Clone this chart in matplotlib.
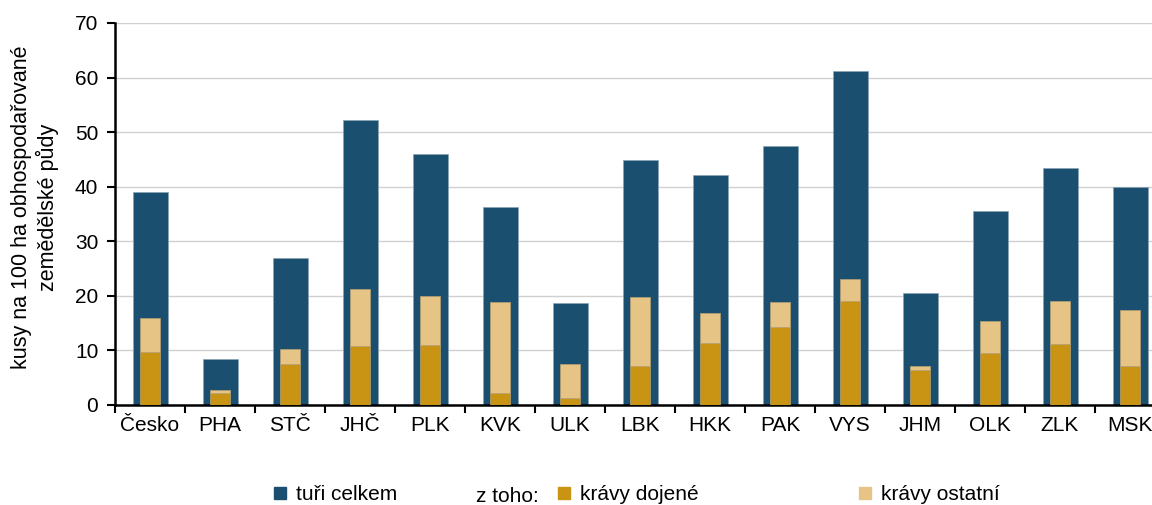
import numpy as np
import matplotlib
matplotlib.use('Agg')
import matplotlib.pyplot as plt
from matplotlib.patches import Patch

matplotlib.rcParams.update({'font.family': ['Liberation Sans', 'DejaVu Sans'], 'font.size': 15})

regions = ['Česko', 'PHA', 'STČ', 'JHČ', 'PLK', 'KVK', 'ULK', 'LBK', 'HKK', 'PAK',
           'VYS', 'JHM', 'OLK', 'ZLK', 'MSK']
turi_celkem = [39.0, 8.4, 26.9, 52.2, 46.0, 36.3, 18.7, 44.9, 42.1, 47.5, 61.2, 20.5, 35.6, 43.5, 40.0]
kravy_dojene = [9.7, 2.2, 7.5, 10.8, 11.0, 2.2, 1.3, 7.1, 11.4, 14.3, 19.1, 6.4, 9.5, 11.2, 7.1]
kravy_ostatni = [6.2, 0.6, 2.8, 10.5, 9.0, 16.7, 6.2, 12.7, 5.5, 4.6, 4.0, 0.7, 5.9, 7.9, 10.4]

c_blue = '#1a4f70'
c_doj = '#c99414'
c_ost = '#e6c486'

fig = plt.figure(figsize=(11.52, 5.05), dpi=100)
ax = fig.add_axes([115/1152, 100/505, 1050/1152, 382/505])

x = np.arange(len(regions))
ax.bar(x, turi_celkem, width=0.5, color=c_blue, edgecolor='#8aa3b5', linewidth=0.5, zorder=2)
ax.bar(x, kravy_dojene, width=0.29, color=c_doj, edgecolor='#b8a070', linewidth=0.5, zorder=3)
ax.bar(x, kravy_ostatni, width=0.29, bottom=kravy_dojene, color=c_ost,
       edgecolor='#b8a070', linewidth=0.5, zorder=3)

ax.set_xlim(-0.5, len(regions) - 0.5)
ax.set_ylim(0, 70)
ax.set_yticks(range(0, 71, 10))
ax.yaxis.grid(True, color='#d0d0d0', linewidth=1.0, zorder=0)
ax.set_axisbelow(True)

ax.set_xticks(x)
ax.set_xticklabels(regions)
ax.set_xticks(np.arange(-0.5, len(regions), 1), minor=True)
ax.tick_params(axis='x', which='major', length=0, pad=8)
ax.tick_params(axis='x', which='minor', length=6, width=1.5, direction='out')
ax.tick_params(axis='y', length=6, width=1.5, direction='out', pad=6)

for s in ['top', 'right']:
    ax.spines[s].set_visible(False)
ax.spines['left'].set_linewidth(1.8)
ax.spines['bottom'].set_linewidth(1.8)

ax.set_ylabel('kusy na 100 ha obhospodařované\nzemědělské půdy', fontsize=15.5)
ax.yaxis.set_label_coords(-56/1050, 0.518)

leg_kw = dict(frameon=False, handlelength=0.55, handleheight=0.55, handletextpad=0.5,
              loc='center left', fontsize=15, borderaxespad=0)
ly = 1 - 495/505
fig.legend(handles=[Patch(color=c_blue, label='tuři celkem')], bbox_to_anchor=(266/1152, ly), **leg_kw)
fig.legend(handles=[Patch(color=c_doj, label='krávy dojené')], bbox_to_anchor=(550/1152, ly), **leg_kw)
fig.legend(handles=[Patch(color=c_ost, label='krávy ostatní')], bbox_to_anchor=(851/1152, ly), **leg_kw)
fig.text(476/1152, 1 - 497/505, 'z toho:', fontsize=15, va='center', ha='left')

fig.savefig('out.png', dpi=100)
